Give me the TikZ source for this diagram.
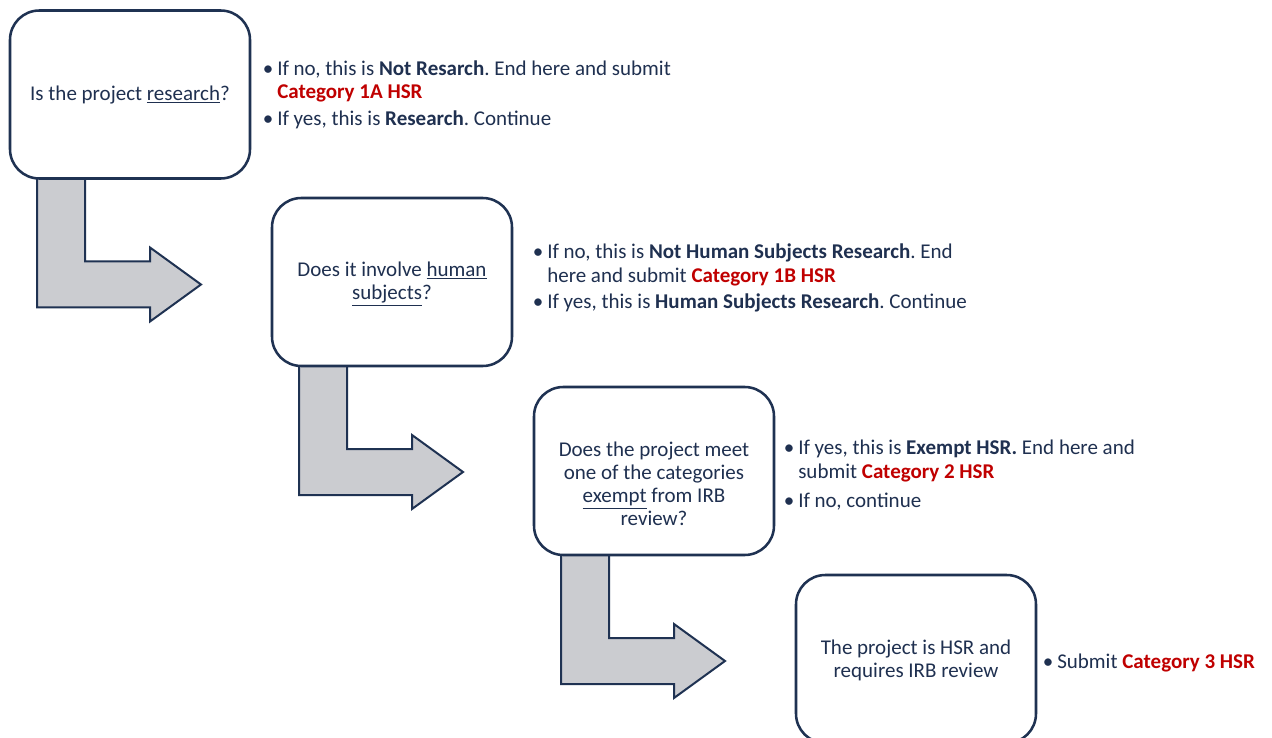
\documentclass[tikz,border=0pt]{standalone}
\usepackage{fontspec}
\setmainfont{Carlito}
\usetikzlibrary{calc}
\frenchspacing
\definecolor{navy}{HTML}{1F3252}
\definecolor{navytext}{HTML}{1F3050}
\definecolor{catred}{HTML}{C00000}
\definecolor{arrowgray}{HTML}{CBCCD0}
\newcommand{\bul}{\llap{•\hspace{3pt}}}
\newcommand{\cat}[1]{\textcolor{catred}{\textbf{#1}}}
\begin{document}
\begin{tikzpicture}[x=0.75pt,y=-0.75pt,
  qbox/.style={draw=navy,line width=1.9pt,rounded corners=22pt,fill=white,minimum width=180pt,minimum height=126pt,inner sep=0pt},
  bentarrow/.style={draw=navy,line width=1.5pt,fill=arrowgray,line join=miter},
  qtext/.style={font=\fontsize{15.75pt}{17.25pt}\selectfont,text=navytext,align=center,inner sep=0pt},
  btext/.style={font=\fontsize{15.75pt}{17.5pt}\selectfont,text=navytext,align=left,inner sep=0pt,anchor=base west}]
\clip (0,0) rectangle (1272,738);
\fill[white] (0,0) rectangle (1272,738);
\path (130,94.5) coordinate (c1) (392,282) coordinate (c2) (654,471) coordinate (c3) (916,659) coordinate (c4);
% bent arrows
\foreach \i in {1,2,3}{
  \begin{scope}[shift={($(c\i)+(-120,84)$)}]
    \path[bentarrow] (27,-4) -- (75,-4) -- (75,83) -- (140,83) -- (140,69) -- (191,106) -- (140,143) -- (140,129) -- (27,129) -- cycle;
  \end{scope}
}
\node[qbox] (q1) at (c1) {};
\node[qbox] (q2) at (c2) {};
\node[qbox] (q3) at (c3) {};
\node[qbox] (q4) at (c4) {};
% box texts
\node[qtext] (t1) at (130,95) {Is the project \underline{research}?};
\node[qtext] (t2) at (392,284) {Does it involve \underline{human}\\\underline{subjects}?};
\node[qtext] (t3) at (654,484) {Does the project meet\\one of the categories\\\underline{exempt} from IRB\\review?};
\node[qtext] (t4) at (916,660) {The project is HSR and\\requires IRB review};
% bullet texts (base anchor = last line baseline)
\node[btext] (b1a) at (277,99) {\bul If no, this is \textbf{Not Resarch}. End here and submit\\\cat{Category 1A HSR}};
\node[btext] (b1b) at (277,126) {\bul If yes, this is \textbf{Research}. Continue};
\node[btext] (b2a) at (547,282) {\bul If no, this is \textbf{Not Human Subjects Research}. End\\here and submit \cat{Category 1B HSR}};
\node[btext] (b2b) at (547,309) {\bul If yes, this is \textbf{Human Subjects Research}. Continue};
\node[btext] (b3a) at (798,478) {\bul If yes, this is \textbf{Exempt HSR.} End here and\\submit \cat{Category 2 HSR}};
\node[btext] (b3b) at (798,507) {\bul If no, continue};
\node[btext] (b4) at (1057,668) {\bul Submit \cat{Category 3 HSR}};
\end{tikzpicture}
\end{document}
